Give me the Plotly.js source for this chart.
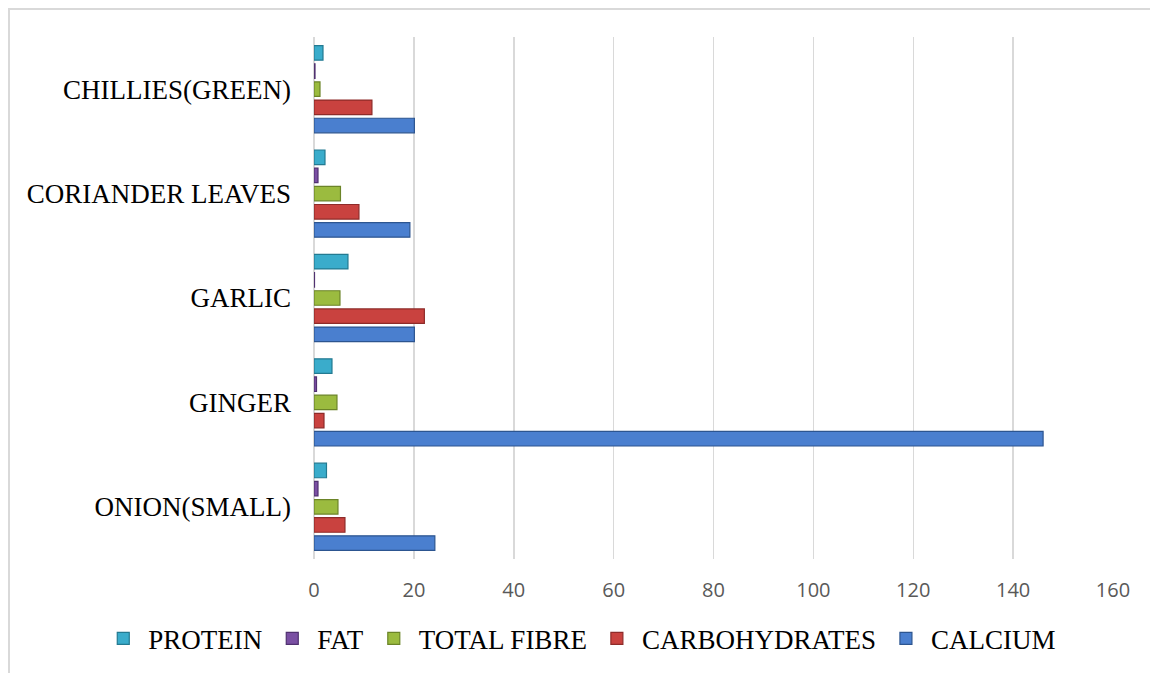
<!DOCTYPE html>
<html>
<head>
<meta charset="utf-8">
<script src="https://cdn.plot.ly/plotly-3.0.1.min.js"></script>
<style>
  html, body { margin: 0; padding: 0; background: #ffffff; }
  #wrap { position: relative; width: 1150px; height: 673px; overflow: hidden; }
  #chart { position: absolute; left: 0; top: 0; width: 1150px; height: 673px; }
  #frame { position: absolute; left: 8px; top: 8px; width: 1160px; height: 690px;
           border: 2px solid #d9d9d9; box-sizing: border-box; pointer-events: none; }
</style>
</head>
<body>
<div id="wrap"><div id="chart"></div><div id="frame"></div></div>
<script>
// Categories (bottom to top)
const categories = ["ONION(SMALL)", "GINGER", "GARLIC", "CORIANDER LEAVES", "CHILLIES(GREEN)"];

// Series values, aligned with categories
const calcium       = [24.2, 146, 20.1, 19.2, 20.1];
const carbohydrates = [6.2, 2.0, 22.1, 9.0, 11.6];
const totalFibre    = [4.8, 4.6, 5.2, 5.3, 1.2];
const fat           = [0.8, 0.5, 0.1, 0.8, 0.2];
const protein       = [2.5, 3.6, 6.8, 2.2, 1.8];

const seriesNames  = ["CALCIUM", "CARBOHYDRATES", "TOTAL FIBRE", "FAT", "PROTEIN"];
const seriesValues = [calcium, carbohydrates, totalFibre, fat, protein];
const seriesColors = ["#4a7fcf", "#c9423f", "#9bbb3f", "#7a4fa3", "#3aaccb"];
const seriesLines  = ["#2c5590", "#8e2b29", "#6b8428", "#503170", "#237a91"];

const traces = seriesNames.map((name, i) => ({
  type: "bar",
  orientation: "h",
  name: name,
  y: categories,
  x: seriesValues[i],
  marker: { color: seriesColors[i], line: { color: seriesLines[i], width: 1.2 } },
  hoverinfo: "x+name"
}));

const layout = {
  width: 1150,
  height: 673,
  margin: { l: 314, r: 37, t: 37, b: 114, autoexpand: false },
  paper_bgcolor: "#ffffff",
  plot_bgcolor: "#ffffff",
  barmode: "group",
  bargap: 0.13,
  bargroupgap: 0.2,
  showlegend: true,
  legend: {
    orientation: "h",
    traceorder: "reversed",
    x: -0.27, xref: "paper", xanchor: "left",
    y: -0.153, yref: "paper", yanchor: "middle",
    font: { family: "Liberation Serif, Times New Roman, serif", size: 27, color: "#000000" },
    itemwidth: 40
  },
  xaxis: {
    range: [0, 160],
    dtick: 20,
    tick0: 0,
    showgrid: true,
    gridcolor: "#d9d9d9",
    gridwidth: 1.5,
    zeroline: true,
    zerolinecolor: "#d9d9d9",
    zerolinewidth: 1.5,
    showline: false,
    ticks: "",
    ticklabelstandoff: 17,
    tickfont: { family: "Open Sans, Liberation Sans, sans-serif", size: 20, color: "#595959" },
    fixedrange: true
  },
  yaxis: {
    type: "category",
    showgrid: false,
    zeroline: false,
    showline: false,
    ticks: "",
    ticklabelstandoff: 22,
    tickfont: { family: "Liberation Serif, Times New Roman, serif", size: 27, color: "#000000" },
    fixedrange: true
  }
};

Plotly.newPlot("chart", traces, layout, { displayModeBar: false, staticPlot: true });
</script>
</body>
</html>
